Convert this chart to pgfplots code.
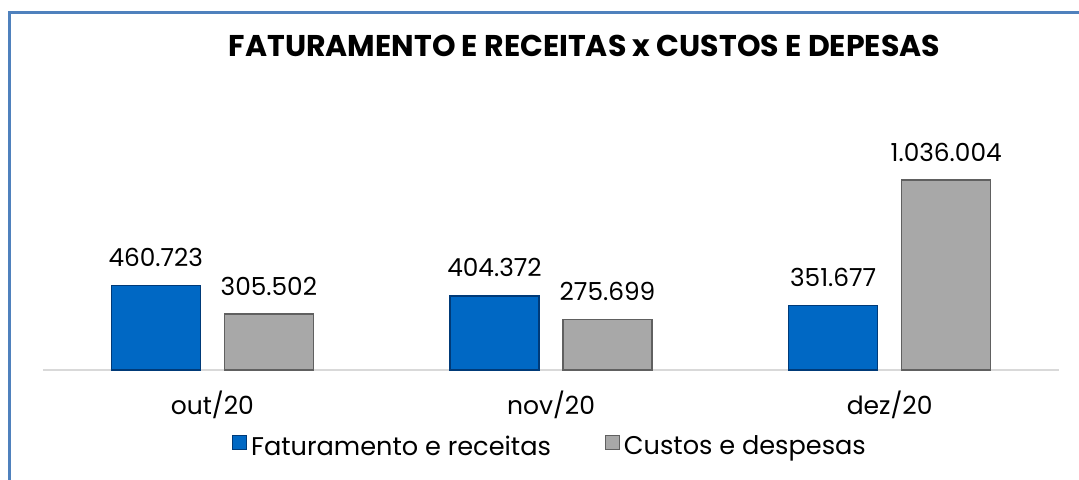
\documentclass[border=0pt]{standalone}
\usepackage{pgfplots}
\pgfplotsset{compat=1.18}
\usepackage{fontspec}
\setmainfont{Poppins}
\definecolor{barblue}{RGB}{0,104,196}
\definecolor{barblueedge}{RGB}{0,58,120}
\definecolor{bargray}{RGB}{168,168,168}
\definecolor{bargrayedge}{RGB}{96,96,96}
\definecolor{frameblue}{RGB}{79,129,189}

\begin{document}
\begin{tikzpicture}
\begin{axis}[
    scale only axis,
    width=508pt, height=135pt,
    xmin=-0.5, xmax=2.5,
    ymin=0, ymax=1472229,
    axis y line=none,
    axis x line*=bottom,
    x axis line style={-, draw=black!15, line width=0.75pt},
    xtick={0,1,2},
    xticklabels={out/20, nov/20, dez/20},
    major tick length=0pt,
    xticklabel style={font=\fontsize{12.5}{15}\selectfont, anchor=base, yshift=-22pt},
    ybar, bar width=44.5pt,
    point meta=explicit symbolic,
    nodes near coords,
    every node near coord/.append style={font=\fontsize{12.4}{15}\selectfont, anchor=south, inner sep=0pt, yshift=9pt},
    legend columns=2,
    legend style={at={(0.5,-0.285)}, anchor=center, draw=none, fill=none,
        font=\fontsize{12.8}{15}\selectfont,
        /tikz/every even column/.append style={column sep=25pt}},
    legend image code/.code={\draw[#1, line width=0.5pt] (0pt,-1.5pt) rectangle (7pt,5.5pt);},
    clip=false,
]
\addplot[fill=barblue, draw=barblueedge, line width=0.8pt, bar shift=-28.25pt]
    coordinates {(0,460723) [460.723] (1,404372) [404.372] (2,351677) [351.677]};
\addlegendentry{Faturamento e receitas}
\addplot[fill=bargray, draw=bargrayedge, line width=0.8pt, bar shift=28.25pt]
    coordinates {(0,305502) [305.502] (1,275699) [275.699] (2,1036004) [1.036.004]};
\addlegendentry{Custos e despesas}
\end{axis}
\node[font=\bfseries\fontsize{15}{18}\selectfont, anchor=base] at (270.75pt,156.5pt)
    {FATURAMENTO E RECEITAS x CUSTOS E DEPESAS};
\draw[frameblue, line width=1.5pt] (-16.75pt,-55pt) -- (-16.75pt,178.5pt) -- (518pt,178.5pt);
\pgfresetboundingbox
\path[use as bounding box] (-21.5pt,-55pt) rectangle (518pt,185pt);
\end{tikzpicture}
\end{document}
